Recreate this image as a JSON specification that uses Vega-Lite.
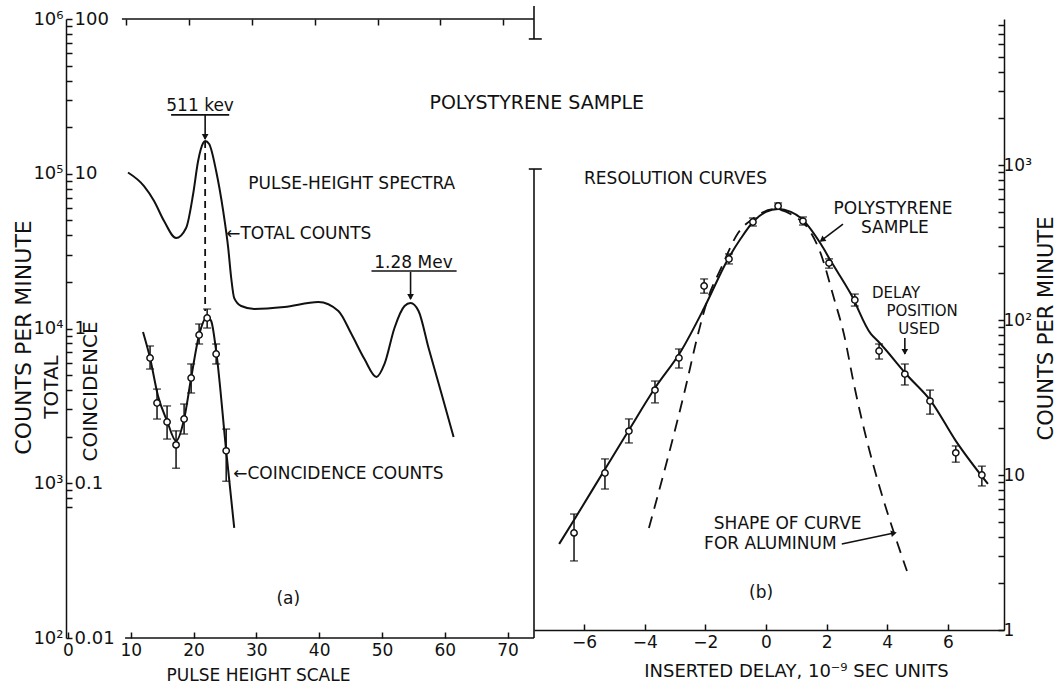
{
  "$schema": "https://vega.github.io/schema/vega-lite/v6.json",
  "background": "white",
  "padding": {"left": 12, "top": 5, "right": 5, "bottom": 0},
  "bounds": "flush",
  "spacing": 0,
  "config": {
    "view": {"stroke": null},
    "font": "DejaVu Sans",
    "axis": {"grid": false, "labelFont": "DejaVu Sans", "titleFont": "DejaVu Sans", "labelColor": "#111", "titleColor": "#111", "domainColor": "#111", "tickColor": "#111", "domainWidth": 1.5, "tickWidth": 1.5, "labelFontWeight": "normal", "titleFontWeight": "normal", "labelOverlap": false, "labelBound": false, "labelFlush": false},
    "text": {"font": "DejaVu Sans", "color": "#111", "fontSize": 17},
    "line": {"color": "#111"},
    "rule": {"color": "#111"}
  },
  "datasets": {
    "total": [
      {"x": 9.57, "v": 101900}, {"x": 12.12, "v": 83300}, {"x": 13.72, "v": 66700}, {"x": 15.31, "v": 49500},
      {"x": 17.22, "v": 38400}, {"x": 18.82, "v": 44600}, {"x": 19.94, "v": 74000}, {"x": 20.73, "v": 120900},
      {"x": 21.53, "v": 158000}, {"x": 21.85, "v": 162800}, {"x": 22.49, "v": 155700}, {"x": 23.6, "v": 104200},
      {"x": 24.72, "v": 57500}, {"x": 25.52, "v": 33200}, {"x": 26.0, "v": 21200}, {"x": 26.48, "v": 15700},
      {"x": 27.59, "v": 13970}, {"x": 29.67, "v": 13370}, {"x": 34.45, "v": 13770}, {"x": 39.87, "v": 14840},
      {"x": 43.06, "v": 12980}, {"x": 45.14, "v": 9210}, {"x": 47.21, "v": 6350}, {"x": 49.12, "v": 4860},
      {"x": 50.4, "v": 5900}, {"x": 51.99, "v": 10080}, {"x": 53.59, "v": 13970}, {"x": 54.55, "v": 14620},
      {"x": 55.82, "v": 12980}, {"x": 57.42, "v": 7480}, {"x": 59.49, "v": 3770}, {"x": 61.4, "v": 1990}
    ],
    "peakLine": [{"x": 21.85, "v": 162800, "v2": 12980}],
    "coincCurve": [
      {"x": 11.96, "c": 0.949}, {"x": 13.08, "c": 0.645}, {"x": 14.35, "c": 0.366}, {"x": 15.79, "c": 0.2525},
      {"x": 17.22, "c": 0.1875}, {"x": 18.5, "c": 0.26}, {"x": 19.62, "c": 0.479}, {"x": 20.89, "c": 0.908},
      {"x": 22.17, "c": 1.187}, {"x": 22.81, "c": 1.118}, {"x": 23.6, "c": 0.716}, {"x": 25.2, "c": 0.162},
      {"x": 26.48, "c": 0.0514}
    ],
    "coinc": [
      {"x": 13.08, "c": 0.645, "lo": 0.547, "hi": 0.771},
      {"x": 14.19, "c": 0.33, "lo": 0.26, "hi": 0.406},
      {"x": 15.79, "c": 0.249, "lo": 0.193, "hi": 0.316},
      {"x": 17.22, "c": 0.177, "lo": 0.125, "hi": 0.218},
      {"x": 18.5, "c": 0.26, "lo": 0.208, "hi": 0.325},
      {"x": 19.62, "c": 0.479, "lo": 0.383, "hi": 0.59},
      {"x": 20.89, "c": 0.908, "lo": 0.794, "hi": 1.069},
      {"x": 22.17, "c": 1.169, "lo": 1.007, "hi": 1.336},
      {"x": 23.6, "c": 0.684, "lo": 0.59, "hi": 0.794},
      {"x": 25.2, "c": 0.162, "lo": 0.103, "hi": 0.224}
    ],
    "notesA": [
      {"x": 21.05, "y": 27.4, "text": "511 kev"},
      {"x": 55.02, "y": 2.65, "text": "1.28 Mev"},
      {"x": 35.09, "y": 0.01786, "text": "(a)"}
    ],
    "notesAL": [
      {"x": 28.71, "y": 8.59, "text": "PULSE-HEIGHT SPECTRA"},
      {"x": 25.2, "y": 4.08, "text": "←TOTAL COUNTS"},
      {"x": 26.32, "y": 0.1148, "text": "←COINCIDENCE COUNTS"}
    ],
    "titleA": [{"x": 74.64, "y": 28.6, "text": "POLYSTYRENE SAMPLE"}],
    "vtextA": [{"x": -2.55, "y": 0.419, "text": "TOTAL"}],
    "segsA": [
      {"x": 16.43, "x2": 25.68, "y": 24.0, "y2": 24.0},
      {"x": 21.85, "x2": 21.85, "y": 24.0, "y2": 16.77},
      {"x": 48.33, "x2": 61.88, "y": 2.353, "y2": 2.353},
      {"x": 54.55, "x2": 54.55, "y": 2.318, "y2": 1.551},
      {"x": 74.2, "x2": 74.2, "y": 10.73, "y2": 0.01},
      {"x": 73.37, "x2": 75.44, "y": 10.73, "y2": 10.73},
      {"x": 74.2, "x2": 74.2, "y": 121.4, "y2": 74.3},
      {"x": 73.37, "x2": 75.44, "y": 74.3, "y2": 74.3},
      {"x": 9.1, "x2": 74.2, "y": 0.01, "y2": 0.01},
      {"x": 8.6, "x2": 74.2, "y": 100, "y2": 100}
    ],
    "headsA": [{"x": 21.85, "y": 17.28}, {"x": 54.55, "y": 1.598}],
    "poly": [
      {"x": -6.33, "v": 4.23, "lo": 2.79, "hi": 5.6},
      {"x": -5.31, "v": 10.3, "lo": 8.12, "hi": 12.7},
      {"x": -4.52, "v": 19.2, "lo": 16.1, "hi": 23.0},
      {"x": -3.66, "v": 35.3, "lo": 29.2, "hi": 40.4},
      {"x": -2.87, "v": 56.9, "lo": 49.0, "hi": 65.0},
      {"x": -2.04, "v": 165.7, "lo": 149, "hi": 184},
      {"x": -1.22, "v": 247.5, "lo": 230, "hi": 267},
      {"x": -0.43, "v": 429, "lo": 404, "hi": 455},
      {"x": 0.4, "v": 544, "lo": 520, "hi": 569},
      {"x": 1.22, "v": 435, "lo": 410, "hi": 462},
      {"x": 2.08, "v": 233, "lo": 216, "hi": 248},
      {"x": 2.93, "v": 134.6, "lo": 123, "hi": 147},
      {"x": 3.73, "v": 63.1, "lo": 56.0, "hi": 70.0},
      {"x": 4.58, "v": 44.8, "lo": 38.1, "hi": 52.0},
      {"x": 5.41, "v": 30.0, "lo": 24.7, "hi": 35.3},
      {"x": 6.26, "v": 13.9, "lo": 12.1, "hi": 15.4},
      {"x": 7.12, "v": 10.0, "lo": 8.5, "hi": 11.4}
    ],
    "polyCurve": [
      {"x": -6.82, "v": 3.59}, {"x": -6.33, "v": 5.12}, {"x": -5.31, "v": 10.9}, {"x": -4.52, "v": 19.5},
      {"x": -3.66, "v": 36.4}, {"x": -2.8, "v": 63.1}, {"x": -2.04, "v": 119.5}, {"x": -1.25, "v": 247.6},
      {"x": -0.82, "v": 338}, {"x": -0.4, "v": 435}, {"x": 0.0, "v": 498}, {"x": 0.4, "v": 520},
      {"x": 0.82, "v": 498}, {"x": 1.15, "v": 455}, {"x": 1.81, "v": 309}, {"x": 2.14, "v": 240},
      {"x": 2.8, "v": 147}, {"x": 3.46, "v": 81.3}, {"x": 3.69, "v": 73.2}, {"x": 4.68, "v": 43.5},
      {"x": 5.44, "v": 30.0}, {"x": 6.26, "v": 16.6}, {"x": 7.32, "v": 8.75}
    ],
    "alum": [
      {"x": -3.86, "v": 4.55}, {"x": -2.64, "v": 37.5}, {"x": -2.24, "v": 81.2}, {"x": -1.91, "v": 138.6},
      {"x": -1.48, "v": 216}, {"x": -0.92, "v": 364}, {"x": -0.4, "v": 455}, {"x": 0.26, "v": 520},
      {"x": 0.92, "v": 469}, {"x": 1.38, "v": 392}, {"x": 1.81, "v": 267}, {"x": 2.24, "v": 138.6},
      {"x": 2.57, "v": 81.2}, {"x": 2.9, "v": 38.6}, {"x": 4.65, "v": 2.4}
    ],
    "notesB": [
      {"x": 4.19, "y": 520, "text": "POLYSTYRENE"},
      {"x": 4.25, "y": 392, "text": "SAMPLE"},
      {"x": -0.16, "y": 1.73, "text": "(b)"}
    ],
    "notesBsmall": [
      {"x": 4.29, "y": 149, "text": "DELAY"},
      {"x": 5.15, "y": 114.3, "text": "POSITION"},
      {"x": 5.05, "y": 87.5, "text": "USED"}
    ],
    "notesBL": [
      {"x": -6.0, "y": 812, "text": "RESOLUTION CURVES"},
      {"x": -1.72, "y": 4.83, "text": "SHAPE OF CURVE"},
      {"x": -2.04, "y": 3.59, "text": "FOR ALUMINUM"}
    ],
    "segsB": [
      {"x": 4.58, "x2": 4.58, "y": 76.5, "y2": 60.4},
      {"x": 2.54, "x2": 1.81, "y": 416, "y2": 323.6},
      {"x": 2.5, "x2": 4.22, "y": 3.59, "y2": 4.22}
    ],
    "headsBdown": [{"x": 4.58, "y": 62.2}],
    "headPoly": [{"x": 1.85, "y": 328}],
    "headAlum": [{"x": 4.22, "y": 4.22}]
  },
  "hconcat": [
    {
      "width": 468,
      "height": 619,
      "resolve": {"scale": {"x": "independent", "y": "independent"}},
      "layer": [
        {
          "layer": [
            {
              "data": {"name": "total"},
              "mark": {"type": "line", "interpolate": "monotone", "strokeWidth": 2},
              "encoding": {
                "x": {"field": "x", "type": "quantitative", "scale": {"domain": [-0.3, 74.2], "nice": false, "zero": false},
                  "axis": {"orient": "bottom", "values": [0, 10, 20, 30, 40, 50, 60, 70], "tickSize": -6, "domain": false, "labelFontSize": 17, "labelPadding": 10, "title": "PULSE HEIGHT SCALE", "titleFontSize": 17, "titleX": 192, "titleY": 37, "titleAlign": "center", "titleBaseline": "middle"}},
                "y": {"field": "v", "type": "quantitative", "scale": {"type": "log", "domain": [100, 1000000], "nice": false},
                  "axis": {"orient": "left", "values": [100, 1000, 10000, 100000, 1000000], "labelExpr": "datum.value == 100 ? '10²' : datum.value == 1000 ? '10³' : datum.value == 10000 ? '10⁴' : datum.value == 100000 ? '10⁵' : datum.value == 1000000 ? '10⁶' : ''", "ticks": false, "tickSize": 0, "labelPadding": 3, "labelFontSize": 18, "domain": true, "title": "COUNTS PER MINUTE", "titleFontSize": 22, "titleAngle": 270, "titleX": -43, "titleY": 318, "titleAlign": "center", "titleBaseline": "middle"}}
              }
            },
            {
              "data": {"name": "peakLine"},
              "mark": {"type": "rule", "strokeDash": [7, 5], "strokeWidth": 1.8},
              "encoding": {
                "x": {"field": "x", "type": "quantitative", "scale": {"domain": [-0.3, 74.2], "nice": false, "zero": false}},
                "y": {"field": "v", "type": "quantitative", "scale": {"type": "log", "domain": [100, 1000000], "nice": false}},
                "y2": {"field": "v2"}
              }
            }
          ]
        },
        {
          "layer": [
            {
              "data": {"name": "coincCurve"},
              "mark": {"type": "line", "interpolate": "monotone", "strokeWidth": 2},
              "encoding": {
                "x": {"field": "x", "type": "quantitative", "scale": {"domain": [-0.3, 74.2], "nice": false, "zero": false},
                  "axis": {"orient": "top", "values": [9.3, 19.3, 29.3, 39.3, 49.3, 59.3, 69.3], "tickSize": -6, "labels": false, "domain": false, "title": null}},
                "y": {"field": "c", "type": "quantitative", "scale": {"type": "log", "domain": [0.01, 100], "nice": false},
                  "axis": {"orient": "right", "offset": -468, "values": [0.01, 0.07, 0.08, 0.09, 0.1, 0.2, 0.3, 0.4, 0.5, 0.6, 0.7, 0.8, 0.9, 1, 2, 3, 4, 5, 6, 7, 8, 9, 10, 20, 30, 40, 50, 60, 70, 80, 90, 100], "labelExpr": "datum.value == 0.01 ? '0.01' : datum.value == 0.1 ? '0.1' : datum.value == 1 ? '1' : datum.value == 10 ? '10' : datum.value == 100 ? '100' : ''", "tickSize": 6, "labelPadding": 2, "labelFontSize": 18, "domain": false, "title": "COINCIDENCE", "titleFontSize": 20, "titleAngle": 270, "titleX": 24, "titleY": 372, "titleAlign": "center", "titleBaseline": "middle"}}
              }
            },
            {
              "data": {"name": "coinc"},
              "mark": {"type": "rule", "strokeWidth": 1.5},
              "encoding": {
                "x": {"field": "x", "type": "quantitative", "scale": {"domain": [-0.3, 74.2], "nice": false, "zero": false}},
                "y": {"field": "lo", "type": "quantitative", "scale": {"type": "log", "domain": [0.01, 100], "nice": false}},
                "y2": {"field": "hi"}
              }
            },
            {
              "data": {"name": "coinc"},
              "mark": {"type": "tick", "orient": "horizontal", "size": 8, "thickness": 1.5, "color": "#111"},
              "encoding": {
                "x": {"field": "x", "type": "quantitative", "scale": {"domain": [-0.3, 74.2], "nice": false, "zero": false}},
                "y": {"field": "lo", "type": "quantitative", "scale": {"type": "log", "domain": [0.01, 100], "nice": false}}
              }
            },
            {
              "data": {"name": "coinc"},
              "mark": {"type": "tick", "orient": "horizontal", "size": 8, "thickness": 1.5, "color": "#111"},
              "encoding": {
                "x": {"field": "x", "type": "quantitative", "scale": {"domain": [-0.3, 74.2], "nice": false, "zero": false}},
                "y": {"field": "hi", "type": "quantitative", "scale": {"type": "log", "domain": [0.01, 100], "nice": false}}
              }
            },
            {
              "data": {"name": "coinc"},
              "mark": {"type": "point", "filled": true, "fill": "white", "stroke": "#111", "strokeWidth": 1.5, "size": 40, "opacity": 1},
              "encoding": {
                "x": {"field": "x", "type": "quantitative", "scale": {"domain": [-0.3, 74.2], "nice": false, "zero": false}},
                "y": {"field": "c", "type": "quantitative", "scale": {"type": "log", "domain": [0.01, 100], "nice": false}}
              }
            },
            {
              "data": {"name": "segsA"},
              "mark": {"type": "rule", "strokeWidth": 1.6},
              "encoding": {
                "x": {"field": "x", "type": "quantitative", "scale": {"domain": [-0.3, 74.2], "nice": false, "zero": false}},
                "x2": {"field": "x2"},
                "y": {"field": "y", "type": "quantitative", "scale": {"type": "log", "domain": [0.01, 100], "nice": false}},
                "y2": {"field": "y2"}
              }
            },
            {
              "data": {"name": "headsA"},
              "mark": {"type": "point", "shape": "triangle-down", "filled": true, "color": "#111", "size": 45, "opacity": 1},
              "encoding": {
                "x": {"field": "x", "type": "quantitative", "scale": {"domain": [-0.3, 74.2], "nice": false, "zero": false}},
                "y": {"field": "y", "type": "quantitative", "scale": {"type": "log", "domain": [0.01, 100], "nice": false}}
              }
            },
            {
              "data": {"name": "notesA"},
              "mark": {"type": "text", "align": "center", "baseline": "middle", "fontSize": 17},
              "encoding": {
                "x": {"field": "x", "type": "quantitative", "scale": {"domain": [-0.3, 74.2], "nice": false, "zero": false}},
                "y": {"field": "y", "type": "quantitative", "scale": {"type": "log", "domain": [0.01, 100], "nice": false}},
                "text": {"field": "text"}
              }
            },
            {
              "data": {"name": "notesAL"},
              "mark": {"type": "text", "align": "left", "baseline": "middle", "fontSize": 17},
              "encoding": {
                "x": {"field": "x", "type": "quantitative", "scale": {"domain": [-0.3, 74.2], "nice": false, "zero": false}},
                "y": {"field": "y", "type": "quantitative", "scale": {"type": "log", "domain": [0.01, 100], "nice": false}},
                "text": {"field": "text"}
              }
            },
            {
              "data": {"name": "titleA"},
              "mark": {"type": "text", "align": "center", "baseline": "middle", "fontSize": 19},
              "encoding": {
                "x": {"field": "x", "type": "quantitative", "scale": {"domain": [-0.3, 74.2], "nice": false, "zero": false}},
                "y": {"field": "y", "type": "quantitative", "scale": {"type": "log", "domain": [0.01, 100], "nice": false}},
                "text": {"field": "text"}
              }
            },
            {
              "data": {"name": "vtextA"},
              "mark": {"type": "text", "align": "center", "baseline": "middle", "fontSize": 20, "angle": 270},
              "encoding": {
                "x": {"field": "x", "type": "quantitative", "scale": {"domain": [-0.3, 74.2], "nice": false, "zero": false}},
                "y": {"field": "y", "type": "quantitative", "scale": {"type": "log", "domain": [0.01, 100], "nice": false}},
                "text": {"field": "text"}
              }
            }
          ]
        }
      ]
    },
    {
      "width": 470,
      "height": 611,
      "layer": [
        {
          "data": {"name": "polyCurve"},
          "mark": {"type": "line", "interpolate": "monotone", "strokeWidth": 2},
          "encoding": {
            "x": {"field": "x", "type": "quantitative", "scale": {"domain": [-7.65, 7.85], "nice": false, "zero": false},
              "axis": {"orient": "bottom", "values": [-6, -4, -2, 0, 2, 4, 6], "tickSize": -6, "domain": true, "labelFontSize": 17, "labelPadding": 10, "title": "INSERTED DELAY, 10⁻⁹ SEC UNITS", "titleFontSize": 18, "titleX": 262, "titleY": 41, "titleAlign": "center", "titleBaseline": "middle"}},
            "y": {"field": "v", "type": "quantitative", "scale": {"type": "log", "domain": [1, 8750], "nice": false},
              "axis": {"orient": "right", "values": [1, 2, 3, 4, 5, 6, 7, 8, 9, 10, 20, 30, 40, 50, 60, 70, 80, 90, 100, 200, 300, 400, 500, 600, 700, 800, 900, 1000, 2000, 3000, 4000, 5000, 6000, 7000, 8000], "labelExpr": "datum.value == 1 ? '1' : datum.value == 10 ? '10' : datum.value == 100 ? '10²' : datum.value == 1000 ? '10³' : ''", "tickSize": -6, "labelPadding": 5, "labelFontSize": 17, "domain": true, "title": "COUNTS PER MINUTE", "titleFontSize": 21, "titleAngle": 270, "titleX": 42, "titleY": 309, "titleAlign": "center", "titleBaseline": "middle"}}
          }
        },
        {
          "data": {"name": "alum"},
          "mark": {"type": "line", "interpolate": "monotone", "strokeWidth": 1.8, "strokeDash": [12, 8]},
          "encoding": {
            "x": {"field": "x", "type": "quantitative", "scale": {"domain": [-7.65, 7.85], "nice": false, "zero": false}},
            "y": {"field": "v", "type": "quantitative", "scale": {"type": "log", "domain": [1, 8750], "nice": false}}
          }
        },
        {
          "data": {"name": "poly"},
          "mark": {"type": "rule", "strokeWidth": 1.5},
          "encoding": {
            "x": {"field": "x", "type": "quantitative", "scale": {"domain": [-7.65, 7.85], "nice": false, "zero": false}},
            "y": {"field": "lo", "type": "quantitative", "scale": {"type": "log", "domain": [1, 8750], "nice": false}},
            "y2": {"field": "hi"}
          }
        },
        {
          "data": {"name": "poly"},
          "mark": {"type": "tick", "orient": "horizontal", "size": 8, "thickness": 1.5, "color": "#111"},
          "encoding": {
            "x": {"field": "x", "type": "quantitative", "scale": {"domain": [-7.65, 7.85], "nice": false, "zero": false}},
            "y": {"field": "lo", "type": "quantitative", "scale": {"type": "log", "domain": [1, 8750], "nice": false}}
          }
        },
        {
          "data": {"name": "poly"},
          "mark": {"type": "tick", "orient": "horizontal", "size": 8, "thickness": 1.5, "color": "#111"},
          "encoding": {
            "x": {"field": "x", "type": "quantitative", "scale": {"domain": [-7.65, 7.85], "nice": false, "zero": false}},
            "y": {"field": "hi", "type": "quantitative", "scale": {"type": "log", "domain": [1, 8750], "nice": false}}
          }
        },
        {
          "data": {"name": "poly"},
          "mark": {"type": "point", "filled": true, "fill": "white", "stroke": "#111", "strokeWidth": 1.5, "size": 40, "opacity": 1},
          "encoding": {
            "x": {"field": "x", "type": "quantitative", "scale": {"domain": [-7.65, 7.85], "nice": false, "zero": false}},
            "y": {"field": "v", "type": "quantitative", "scale": {"type": "log", "domain": [1, 8750], "nice": false}}
          }
        },
        {
          "data": {"name": "segsB"},
          "mark": {"type": "rule", "strokeWidth": 1.6},
          "encoding": {
            "x": {"field": "x", "type": "quantitative", "scale": {"domain": [-7.65, 7.85], "nice": false, "zero": false}},
            "x2": {"field": "x2"},
            "y": {"field": "y", "type": "quantitative", "scale": {"type": "log", "domain": [1, 8750], "nice": false}},
            "y2": {"field": "y2"}
          }
        },
        {
          "data": {"name": "headsBdown"},
          "mark": {"type": "point", "shape": "triangle-down", "filled": true, "color": "#111", "size": 45, "opacity": 1},
          "encoding": {
            "x": {"field": "x", "type": "quantitative", "scale": {"domain": [-7.65, 7.85], "nice": false, "zero": false}},
            "y": {"field": "y", "type": "quantitative", "scale": {"type": "log", "domain": [1, 8750], "nice": false}}
          }
        },
        {
          "data": {"name": "headPoly"},
          "mark": {"type": "point", "shape": "triangle-up", "angle": 233, "filled": true, "color": "#111", "size": 45, "opacity": 1},
          "encoding": {
            "x": {"field": "x", "type": "quantitative", "scale": {"domain": [-7.65, 7.85], "nice": false, "zero": false}},
            "y": {"field": "y", "type": "quantitative", "scale": {"type": "log", "domain": [1, 8750], "nice": false}}
          }
        },
        {
          "data": {"name": "headAlum"},
          "mark": {"type": "point", "shape": "triangle-up", "angle": 77, "filled": true, "color": "#111", "size": 45, "opacity": 1},
          "encoding": {
            "x": {"field": "x", "type": "quantitative", "scale": {"domain": [-7.65, 7.85], "nice": false, "zero": false}},
            "y": {"field": "y", "type": "quantitative", "scale": {"type": "log", "domain": [1, 8750], "nice": false}}
          }
        },
        {
          "data": {"name": "notesB"},
          "mark": {"type": "text", "align": "center", "baseline": "middle", "fontSize": 17},
          "encoding": {
            "x": {"field": "x", "type": "quantitative", "scale": {"domain": [-7.65, 7.85], "nice": false, "zero": false}},
            "y": {"field": "y", "type": "quantitative", "scale": {"type": "log", "domain": [1, 8750], "nice": false}},
            "text": {"field": "text"}
          }
        },
        {
          "data": {"name": "notesBsmall"},
          "mark": {"type": "text", "align": "center", "baseline": "middle", "fontSize": 15},
          "encoding": {
            "x": {"field": "x", "type": "quantitative", "scale": {"domain": [-7.65, 7.85], "nice": false, "zero": false}},
            "y": {"field": "y", "type": "quantitative", "scale": {"type": "log", "domain": [1, 8750], "nice": false}},
            "text": {"field": "text"}
          }
        },
        {
          "data": {"name": "notesBL"},
          "mark": {"type": "text", "align": "left", "baseline": "middle", "fontSize": 17},
          "encoding": {
            "x": {"field": "x", "type": "quantitative", "scale": {"domain": [-7.65, 7.85], "nice": false, "zero": false}},
            "y": {"field": "y", "type": "quantitative", "scale": {"type": "log", "domain": [1, 8750], "nice": false}},
            "text": {"field": "text"}
          }
        }
      ]
    }
  ]
}
